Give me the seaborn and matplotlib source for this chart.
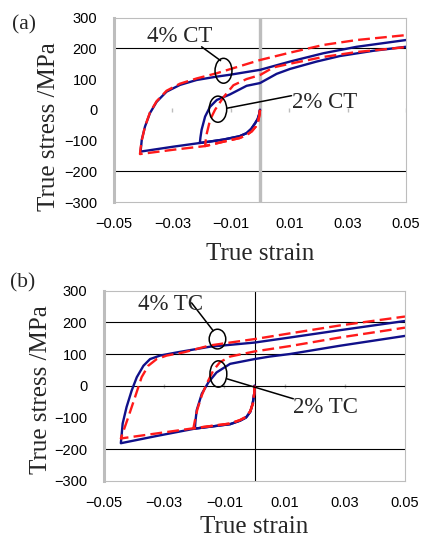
import matplotlib
matplotlib.use("Agg")
import matplotlib.pyplot as plt
from matplotlib.patches import Ellipse
import pandas as pd
import seaborn as sns

sns.set_theme(style="white")
plt.rcParams['font.family'] = ['Liberation Sans', 'DejaVu Sans']
SERIF = ['Liberation Serif', 'DejaVu Serif']

# --- data (strain, MPa) ---
# panel (a): compression first, then tension (CT)
a_exp_comp_x = [0, -0.0003, -0.0008, -0.0017, -0.003, -0.0046, -0.007, -0.0126, -0.0206, -0.0297, -0.0409]
a_exp_comp_y = [0, -15, -30, -44, -62, -76, -86, -97, -108, -120, -136]
a_sim_comp_x = [0, -0.0002, -0.0006, -0.0014, -0.0028, -0.0046, -0.007, -0.0126, -0.0188, -0.0297, -0.0411]
a_sim_comp_y = [0, -18, -36, -54, -70, -82, -92, -104, -118, -130, -144]

a_exp4_x = [-0.0409, -0.0407, -0.0405, -0.0394, -0.0377, -0.0354, -0.032, -0.0274, -0.0217, -0.0148, -0.0103, 0, 0.0103, 0.0217, 0.0331, 0.05]
a_exp4_y = [-136, -118, -98, -55, -11, 26, 59, 81, 97, 108, 114, 130, 157, 184, 205, 227]
a_sim4_x = [-0.0411, -0.0409, -0.0405, -0.0394, -0.0377, -0.0354, -0.032, -0.0274, -0.0217, -0.0148, 0, 0.0103, 0.0217, 0.0331, 0.05]
a_sim4_y = [-144, -125, -100, -55, -9, 28, 62, 85, 102, 119, 162, 186, 211, 227, 243]

a_exp2_x = [-0.0206, -0.0204, -0.02, -0.0188, -0.0171, -0.0148, -0.0103, -0.0046, 0, 0.0057, 0.0103, 0.0194, 0.0274, 0.0388, 0.05]
a_exp2_y = [-108, -90, -65, -22, 10, 32, 50, 78, 87, 117, 133, 157, 175, 192, 205]
a_sim2_x = [-0.0188, -0.0186, -0.0182, -0.0171, -0.0154, -0.0126, -0.0091, -0.0046, 0, 0.0046, 0.0103, 0.0217, 0.0331, 0.05]
a_sim2_y = [-118, -100, -76, -33, 0, 40, 80, 100, 113, 138, 150, 172, 188, 204]

# panel (b): tension first, then compression (TC)
b_exp_comp_x = [0, -0.0001, -0.0006, -0.0014, -0.0028, -0.0048, -0.0081, -0.0198, -0.0324, -0.0444]
b_exp_comp_y = [0, -25, -56, -82, -100, -110, -121, -135, -158, -181]
b_sim_comp_x = [0, -0.0001, -0.0005, -0.0014, -0.0028, -0.0048, -0.0081, -0.0203, -0.0324, -0.0444]
b_sim_comp_y = [0, -25, -55, -80, -98, -108, -119, -134, -150, -166]

b_exp4_x = [-0.0444, -0.0441, -0.0438, -0.0425, -0.0408, -0.0391, -0.0369, -0.0347, -0.0314, -0.0258, -0.0148, 0, 0.0118, 0.0284, 0.05]
b_exp4_y = [-181, -150, -119, -67, -15, 27, 63, 84, 95, 105, 123, 136, 152, 175, 204]
b_sim4_x = [-0.0444, -0.0419, -0.0397, -0.0375, -0.0353, -0.0325, -0.0292, -0.0236, -0.0148, 0, 0.0118, 0.0284, 0.05]
b_sim4_y = [-166, -98, -36, 27, 63, 84, 95, 105, 127, 147, 165, 190, 218]

b_exp2_x = [-0.0198, -0.0196, -0.0192, -0.0175, -0.0153, -0.0126, -0.0081, 0, 0.0051, 0.0118, 0.0284, 0.05]
b_exp2_y = [-135, -110, -77, -25, 11, 42, 69, 84, 92, 100, 126, 157]
b_sim2_x = [-0.0203, -0.0198, -0.019, -0.0175, -0.0159, -0.0137, -0.0115, -0.0081, 0, 0.0118, 0.0284, 0.05]
b_sim2_y = [-134, -110, -75, -30, 6, 48, 74, 92, 108, 125, 152, 183]

x_ticks = [-0.05, -0.03, -0.01, 0.01, 0.03, 0.05]
x_ticklabels = ['\u22120.05', '\u22120.03', '\u22120.01', '0.01', '0.03', '0.05']
y_ticks = [-300, -200, -100, 0, 100, 200, 300]
y_ticklabels = ['\u2212300', '\u2212200', '\u2212100', '0', '100', '200', '300']
grid_a = [200, -200]
grid_b = [200, 100, 0, -200]

BLUE = '#10108a'
RED = '#ff1a1a'
GRAY = '#bdbdbd'


def full_path(comp_x, comp_y, rev_x, rev_y):
    # loading branch down to the reversal point, then the reverse branch
    xs = [x for x in comp_x if x > rev_x[0]]
    ys = comp_y[:len(xs)]
    return pd.DataFrame({'strain': xs + rev_x, 'stress': ys + rev_y})


def draw_curves(ax, paths):
    for df, kind in paths:
        if kind == 'exp':
            sns.lineplot(data=df, x='strain', y='stress', sort=False, estimator=None,
                         color=BLUE, lw=1.7, ax=ax)
    for df, kind in paths:
        if kind == 'sim':
            sns.lineplot(data=df, x='strain', y='stress', sort=False, estimator=None,
                         color=RED, lw=1.7, dashes=False, ax=ax)
            ax.lines[-1].set_dashes([5, 2.2])


def style_axes(ax, grid, vline_color, vline_lw):
    ax.set_xlim(-0.05, 0.05)
    ax.set_ylim(-300, 300)
    for g in grid:
        ax.axhline(g, color='black', lw=0.8, zorder=0.5)
    ax.axvline(0, color=vline_color, lw=vline_lw, zorder=0.6)
    ax.vlines(x_ticks, -7, 7, color=GRAY, lw=1.0, zorder=0.4)
    ax.set_xticks(x_ticks)
    ax.set_xticklabels(x_ticklabels)
    ax.set_yticks(y_ticks)
    ax.set_yticklabels(y_ticklabels)
    ax.tick_params(axis='x', length=0, pad=10.5, labelsize=10.5, colors='black')
    ax.tick_params(axis='y', length=0, pad=12, labelsize=10.5, colors='black')
    for side in ['top', 'right', 'bottom']:
        ax.spines[side].set_color(GRAY)
        ax.spines[side].set_linewidth(0.8)
    ax.spines['left'].set_color(GRAY)
    ax.spines['left'].set_linewidth(2.2)
    ax.set_xlabel('True strain', family=SERIF, fontsize=18)
    ax.set_ylabel('True stress /MPa', family=SERIF, fontsize=18)


def bubble(ax, cx, cy, w, h, x0, y0, x1, y1, label, tx, ty):
    ax.add_patch(Ellipse((cx, cy), w, h, fill=False, ec='black', lw=1.1, zorder=5))
    ax.plot([x0, x1], [y0, y1], color='black', lw=1.1, zorder=5)
    ax.text(tx, ty, label, family=SERIF, fontsize=16.5, ha='left', va='center', zorder=6)


fig = plt.figure(figsize=(4.22, 5.39), dpi=100)
ax_a = fig.add_axes([114 / 422, 1 - 202 / 539, 292 / 422, 184.4 / 539])
ax_b = fig.add_axes([104 / 422, 1 - 481 / 539, 301 / 422, 190.5 / 539])

# --- panel (a) ---
paths_a = [
    (full_path(a_exp_comp_x, a_exp_comp_y, a_exp4_x, a_exp4_y), 'exp'),
    (full_path(a_exp_comp_x, a_exp_comp_y, a_exp2_x, a_exp2_y), 'exp'),
    (full_path(a_sim_comp_x, a_sim_comp_y, a_sim4_x, a_sim4_y), 'sim'),
    (full_path(a_sim_comp_x, a_sim_comp_y, a_sim2_x, a_sim2_y), 'sim'),
]
draw_curves(ax_a, paths_a)
style_axes(ax_a, grid_a, GRAY, 2.4)
ax_a.yaxis.set_label_coords(-0.185, 0.41)
ax_a.xaxis.set_label_coords(0.5, -0.225)
bubble(ax_a, -0.0125, 127, 0.0058, 81, -0.020, 205, -0.0135, 160, '4% CT', -0.0387, 240)
bubble(ax_a, -0.0144, 2, 0.006, 85, -0.0114, 5, 0.0108, 46, '2% CT', 0.011, 25)

# --- panel (b) ---
paths_b = [
    (full_path(b_exp_comp_x, b_exp_comp_y, b_exp4_x, b_exp4_y), 'exp'),
    (full_path(b_exp_comp_x, b_exp_comp_y, b_exp2_x, b_exp2_y), 'exp'),
    (full_path(b_sim_comp_x, b_sim_comp_y, b_sim4_x, b_sim4_y), 'sim'),
    (full_path(b_sim_comp_x, b_sim_comp_y, b_sim2_x, b_sim2_y), 'sim'),
]
draw_curves(ax_b, paths_b)
style_axes(ax_b, grid_b, 'black', 0.8)
ax_b.yaxis.set_label_coords(-0.173, 0.48)
ax_b.xaxis.set_label_coords(0.5, -0.182)
bubble(ax_b, -0.0123, 147, 0.0055, 62, -0.0209, 261, -0.0137, 173, '4% TC', -0.0387, 257)
bubble(ax_b, -0.012, 37, 0.0056, 83, -0.0092, 22, 0.0129, -41, '2% TC', 0.0129, -68)

fig.text(12 / 422, 1 - 25 / 539, '(a)', family=SERIF, fontsize=15.5, va='center', ha='left')
fig.text(10 / 422, 1 - 283 / 539, '(b)', family=SERIF, fontsize=15.5, va='center', ha='left')

fig.savefig('out.png', dpi=100)
